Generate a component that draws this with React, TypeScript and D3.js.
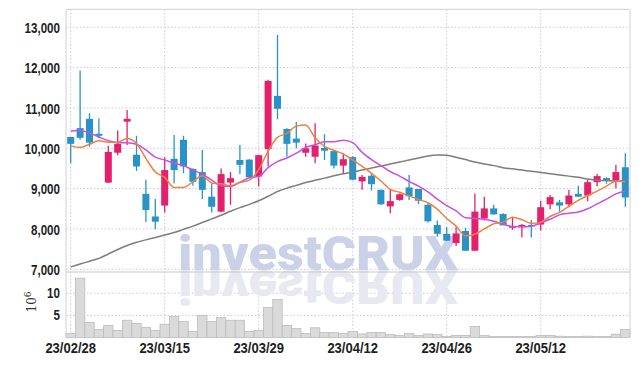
import React from "react";
import * as d3 from "d3";

const dates = [
  "23/02/28","23/03/02","23/03/03","23/03/06","23/03/07","23/03/08","23/03/09","23/03/10","23/03/13","23/03/14",
  "23/03/15","23/03/16","23/03/17","23/03/20","23/03/21","23/03/22","23/03/23","23/03/24","23/03/27","23/03/28",
  "23/03/29","23/03/30","23/03/31","23/04/03","23/04/04","23/04/05","23/04/06","23/04/07","23/04/10","23/04/11",
  "23/04/12","23/04/13","23/04/14","23/04/17","23/04/18","23/04/19","23/04/20","23/04/21","23/04/24","23/04/25",
  "23/04/26","23/04/27","23/04/28","23/05/02","23/05/03","23/05/04","23/05/08","23/05/09","23/05/10","23/05/11",
  "23/05/12","23/05/15","23/05/16","23/05/17","23/05/18","23/05/19","23/05/22","23/05/23","23/05/24","23/05/25",
];
const tickDates = ["23/02/28", "23/03/15", "23/03/29", "23/04/12", "23/04/26", "23/05/12"];

const open = [
  10280,10500,10730,10360,9150,9890,10660,9840,8870,8310,
  8580,9740,10210,9490,9410,8800,8430,9150,9710,9720,
  9300,9980,11300,10480,10240,9890,9790,10010,9930,9570,
  9780,9180,9320,8970,8560,8720,9030,8990,8600,8100,
  7880,7650,7950,7460,8260,8510,8370,8030,8060,8100,
  8110,8610,8660,8610,8870,8830,9160,9260,9200,9530,
];
const high = [
  10280,11930,10870,10740,10060,10440,10950,10310,9220,8740,
  9780,10330,10310,9500,9960,9130,9500,9410,10080,9730,
  9840,11700,12810,10500,10650,10120,10620,10350,9940,9880,
  9800,9340,9380,8980,8990,8880,9340,8990,8640,8210,
  8040,8040,8030,8880,8800,8600,8390,8300,8120,8220,
  8700,8840,8720,8970,9070,9220,9360,9280,9590,9880,
];
const low = [
  9630,10210,10040,10250,9140,9830,10080,9440,8170,7990,
  8410,9130,9380,9070,8740,8410,8410,8600,9360,9260,
  9050,9550,10720,9790,10000,9790,9630,9710,9500,9380,
  9210,8970,8950,8600,8390,8700,8720,8620,8160,7810,
  7700,7580,7460,7460,8210,8360,8090,7980,7790,7790,
  7960,8490,8430,8540,8790,8690,9050,9120,9010,8550,
];
const close = [
  10110,10260,10140,10310,9910,10110,10730,9550,8470,8180,
  9460,9460,9550,9170,8970,8550,9360,9260,9590,9280,
  9830,11670,10980,10110,10140,10000,10070,9940,9570,9730,
  9220,9290,9110,8610,8690,8860,8810,8700,8190,7880,
  7710,7890,7460,8430,8510,8360,8090,8070,8100,8060,
  8540,8790,8580,8830,8800,9160,9310,9200,9410,8780,
];
const ma5 = [
  10060,10020,10100,10190,10150,10150,10240,10120,9750,9410,
  9280,9030,9030,9170,9320,9140,9120,9070,9150,9210,
  9470,9930,10270,10370,10550,10580,10260,10050,9950,9860,
  9710,9550,9380,9190,8980,8910,8820,8730,8650,8490,
  8260,8070,7830,7870,8000,8130,8170,8290,8230,8140,
  8170,8310,8410,8560,8710,8830,8940,9060,9180,9170,
];
const ma10 = [
  10430,10440,10380,10280,10190,10140,10140,10100,9960,9780,
  9710,9630,9570,9460,9360,9210,9070,9050,9160,9270,
  9300,9520,9670,9760,9880,10020,10090,10160,10160,10200,
  10140,9900,9720,9570,9420,9310,9180,9060,8920,8740,
  8580,8450,8280,8260,8240,8190,8120,8060,8050,8070,
  8150,8240,8350,8390,8420,8500,8620,8740,8870,8940,
];
const maLong = [
  7060,7130,7200,7270,7380,7490,7590,7670,7730,7790,
  7850,7910,7990,8070,8160,8250,8340,8440,8530,8610,
  8700,8810,8930,9010,9080,9150,9210,9260,9320,9370,
  9410,9460,9510,9560,9610,9660,9710,9760,9810,9835,
  9826,9780,9720,9660,9610,9570,9520,9490,9460,9430,
  9400,9370,9340,9310,9280,9240,9210,9200,9190,9190,
];
const volume = [
  0.9,13.4,3.4,1.8,2.7,1.6,3.9,3.2,2.3,1.6,
  3.0,4.8,3.6,1.4,5.0,3.6,4.5,3.9,3.9,1.4,
  1.6,6.8,8.6,2.7,2.0,0.9,2.2,1.1,1.1,0.9,
  1.4,0.8,1.1,1.1,0.7,0.45,0.9,0.45,0.8,0.7,
  0.2,0.45,0.45,2.5,0.45,0.2,0.2,0.2,0.2,0.2,
  0.45,0.45,0.3,0.2,0.2,0.3,0.2,0.2,0.75,1.8,
];
const priceTicks = [7000, 8000, 9000, 10000, 11000, 12000, 13000];
const volumeTicks = [5, 10];

const W = 639, H = 366;
const L = 66, R = 630, T = 9.3, PB = 272, VB = 337.5;
const UP = "#e3206b", DOWN = "#2a93c5";
const GRID = "#c6c9dc";
const FRAME = "#cfd0d8";
const FONT = "'Liberation Sans', Arial, sans-serif";

export default function App() {
  const x = d3.scaleBand<string>().domain(dates).range([L, R]).paddingInner(0).paddingOuter(0);
  const bw = x.bandwidth();
  const cx = (d: string) => (x(d) as number) + bw / 2;
  const y = d3.scaleLinear().domain([6933, 13446]).range([PB, T]);
  const yv = d3.scaleLinear().domain([0, 14.8]).range([VB, PB]);
  const lineOf = (vals: number[]) =>
    d3.line<number>().x((_, i) => cx(dates[i])).y((v) => y(v)).curve(d3.curveMonotoneX)(vals) || "";

  const candleW = 7;

  return (
    <svg width={W} height={H} style={{ position: "absolute", left: 0, top: 0, background: "#fff" }}>
      {/* grid */}
      {priceTicks.map((t) => (
        <line key={"pg" + t} x1={L} x2={R} y1={y(t)} y2={y(t)} stroke={GRID} strokeDasharray="1.5,2" />
      ))}
      {volumeTicks.map((t) => (
        <line key={"vg" + t} x1={L} x2={R} y1={yv(t)} y2={yv(t)} stroke={GRID} strokeDasharray="1.5,2" />
      ))}
      {tickDates.map((d) => (
        <line key={"xg" + d} x1={cx(d)} x2={cx(d)} y1={T} y2={VB} stroke={GRID} strokeDasharray="1.5,2" />
      ))}

      {/* watermark */}
      <g fontFamily="Roboto, 'Liberation Sans', sans-serif" fontWeight={900} fontSize={48}>
        <text x={178} y={270} textLength={280} lengthAdjust="spacingAndGlyphs" fill="#cbd1e7">investCRUX</text>
        <text x={178} y={270} textLength={280} lengthAdjust="spacingAndGlyphs" fill="#e8e8f0"
          transform={`translate(0, ${2 * 270}) scale(1,-1)`}>investCRUX</text>
      </g>

      {/* volume */}
      {volume.map((v, i) => (
        <rect key={"v" + i} x={x(dates[i]) as number} y={yv(v)} width={bw} height={VB - yv(v)}
          fill="#dadada" stroke="#bcbcbc" strokeWidth={0.8} />
      ))}

      {/* frame */}
      <line x1={L} x2={R} y1={T} y2={T} stroke={FRAME} />
      <line x1={L} x2={L} y1={T} y2={VB} stroke={FRAME} />
      <line x1={R} x2={R} y1={T} y2={VB} stroke={FRAME} />
      <line x1={L} x2={R} y1={PB} y2={PB} stroke="#c8c8c8" strokeWidth={1.2} />

      {/* candles */}
      {dates.map((d, i) => {
        const up = close[i] >= open[i];
        const c = up ? UP : DOWN;
        const top = y(Math.max(open[i], close[i]));
        const bot = y(Math.min(open[i], close[i]));
        return (
          <g key={"c" + i}>
            <line x1={cx(d)} x2={cx(d)} y1={y(high[i])} y2={y(low[i])} stroke={c} strokeWidth={1.3} />
            <rect x={cx(d) - candleW / 2} y={top} width={candleW} height={Math.max(1.5, bot - top)} fill={c} />
          </g>
        );
      })}

      {/* moving averages */}
      <path d={lineOf(maLong)} fill="none" stroke="#7d7d7d" strokeWidth={1.5} />
      <path d={lineOf(ma10)} fill="none" stroke="#c94ee6" strokeWidth={1.5} />
      <path d={lineOf(ma5)} fill="none" stroke="#ee8040" strokeWidth={1.5} />

      {/* axes labels */}
      <g fontFamily={FONT} fontWeight="bold" fill="#1e1e1e">
        {priceTicks.map((t) => (
          <text key={"pl" + t} transform={`translate(60, ${y(t) + 2}) scale(0.8, 1)`} fontSize={14.5}
            textAnchor="end" dominantBaseline="middle">
            {d3.format(",")(t)}
          </text>
        ))}
        {volumeTicks.map((t) => (
          <text key={"vl" + t} transform={`translate(60, ${yv(t) + 1}) scale(0.8, 1)`} fontSize={14.5}
            textAnchor="end" dominantBaseline="middle">{t}</text>
        ))}
        {tickDates.map((d) => (
          <text key={"xl" + d} transform={`translate(${cx(d)}, 349) scale(0.84, 1)`} fontSize={15.5}
            textAnchor="middle" dominantBaseline="middle">{d}</text>
        ))}
      </g>
      <text transform="translate(36, 302) rotate(-90)" textAnchor="middle" fontFamily="'DejaVu Serif', serif"
        fontSize={12} fill="#333">
        10<tspan dy={-5} fontSize={9}>6</tspan>
      </text>
    </svg>
  );
}
